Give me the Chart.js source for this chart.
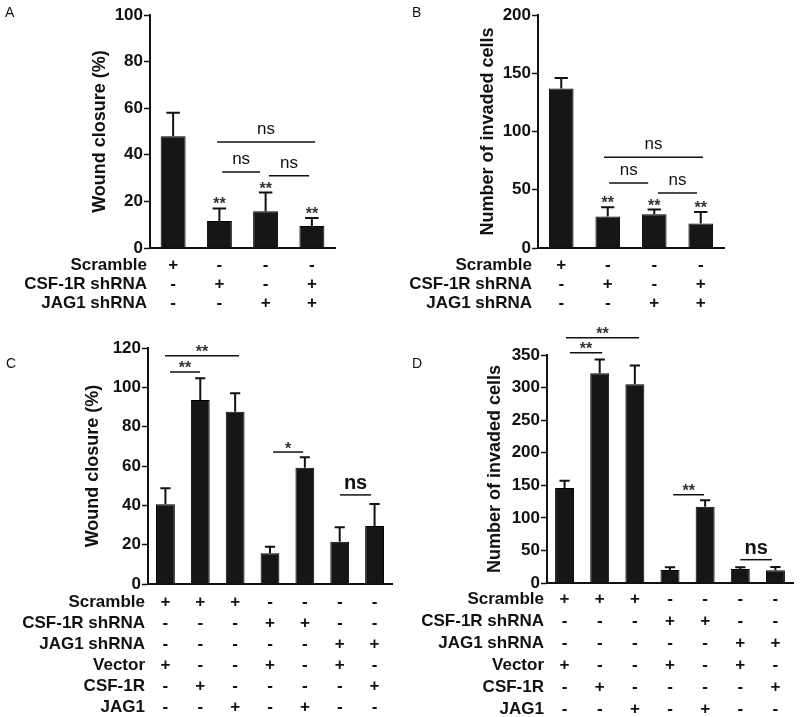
<!DOCTYPE html>
<html>
<head>
<meta charset="utf-8">
<script src="https://cdn.jsdelivr.net/npm/chart.js@4"></script>
<style>
  body { margin: 0; background: #fff; }
  #wrap { position: relative; width: 800px; height: 717px; }
  canvas { position: absolute; }
  .tag { position: absolute; font: 14px "Liberation Sans", Arial, sans-serif; color: #111; }
</style>
</head>
<body>
<div id="wrap">
  <canvas id="cA" width="400" height="320" style="left:0;top:0"></canvas>
  <canvas id="cB" width="400" height="320" style="left:400px;top:0"></canvas>
  <canvas id="cC" width="400" height="397" style="left:0;top:320px"></canvas>
  <canvas id="cD" width="400" height="397" style="left:400px;top:320px"></canvas>
  <div class="tag" style="left:5px;top:4px">A</div>
  <div class="tag" style="left:412px;top:4px">B</div>
  <div class="tag" style="left:6px;top:355px">C</div>
  <div class="tag" style="left:412px;top:355px">D</div>
</div>
<script>
// ---- data ----
const rowsTop = ["Scramble", "CSF-1R shRNA", "JAG1 shRNA"];
const signsTop = [
  ["+", "-", "-", "-"],
  ["-", "+", "-", "+"],
  ["-", "-", "+", "+"],
];
const rowsBottom = ["Scramble", "CSF-1R shRNA", "JAG1 shRNA", "Vector", "CSF-1R", "JAG1"];
const signsBottom = [
  ["+", "+", "+", "-", "-", "-", "-"],
  ["-", "-", "-", "+", "+", "-", "-"],
  ["-", "-", "-", "-", "-", "+", "+"],
  ["+", "-", "-", "+", "-", "+", "-"],
  ["-", "+", "-", "-", "-", "-", "+"],
  ["-", "-", "+", "-", "+", "-", "-"],
];

const woundA = [48, 11.6, 15.8, 9.4];
const woundAErr = [10, 5.4, 8, 3.5];
const invadedB = [137, 27, 29, 21];
const invadedBErr = [9, 8, 4, 10];
const woundC = [40.5, 93.6, 87.6, 15.6, 59.1, 21.5, 29.5];
const woundCErr = [8.2, 11, 9.4, 3.4, 5.3, 7.3, 11.2];
const invadedD = [146, 322, 305, 20, 117, 21.5, 19.5];
const invadedDErr = [11, 21, 29, 4, 10, 2.5, 5];

const starsA = ["", "**", "**", "**"];
const starsB = ["", "**", "**", "**"];

// brackets: from / to (category position), height (data value), label
const bracketsA = [
  { x1: 0.95, x2: 3.07, v: 45.5, t: "ns" },
  { x1: 1.06, x2: 1.88, v: 32.6, t: "ns" },
  { x1: 2.07, x2: 2.94, v: 31, t: "ns" },
];
const bracketsB = [
  { x1: 0.92, x2: 3.05, v: 78, t: "ns" },
  { x1: 1.03, x2: 1.87, v: 55.8, t: "ns" },
  { x1: 2.08, x2: 2.92, v: 47.2, t: "ns" },
];
const bracketsC = [
  { x1: -0.01, x2: 2.11, v: 116, t: "**" },
  { x1: 0.13, x2: 0.99, v: 107.8, t: "**" },
  { x1: 3.09, x2: 3.95, v: 67.1, t: "*" },
  { x1: 5.01, x2: 5.9, v: 45.3, t: "ns", big: true },
];
const bracketsD = [
  { x1: 0.04, x2: 2.12, v: 376.6, t: "**" },
  { x1: 0.15, x2: 1.07, v: 353.5, t: "**" },
  { x1: 3.09, x2: 3.97, v: 135.5, t: "**" },
  { x1: 5.0, x2: 5.9, v: 35.8, t: "ns", big: true },
];

const FONT = '"Liberation Sans", Arial, sans-serif';

// error bars, stars, brackets and the +/- table under the x axis
const extras = {
  id: "extras",
  afterDatasetsDraw(chart, args, o) {
    const { ctx, scales: { x, y }, chartArea } = chart;
    const vals = chart.data.datasets[0].data;
    const meta = chart.getDatasetMeta(0);
    ctx.save();
    ctx.strokeStyle = "#111";
    ctx.fillStyle = "#111";
    ctx.lineWidth = 2;
    meta.data.forEach((bar, i) => {
      const top = y.getPixelForValue(vals[i] + o.err[i]);
      const half = bar.width * 0.27;
      ctx.beginPath();
      ctx.moveTo(bar.x, bar.y);
      ctx.lineTo(bar.x, top);
      ctx.moveTo(bar.x - half, top);
      ctx.lineTo(bar.x + half, top);
      ctx.stroke();
      if (o.stars && o.stars[i]) {
        ctx.font = "bold 16px " + FONT;
        ctx.fillStyle = "#333";
        ctx.textAlign = "center";
        ctx.textBaseline = "alphabetic";
        ctx.fillText(o.stars[i], bar.x, top + 1);
        ctx.fillStyle = "#111";
      }
    });

    ctx.lineWidth = 1.5;
    o.brackets.forEach((b) => {
      const px1 = x.getPixelForValue(b.x1);
      const px2 = x.getPixelForValue(b.x2);
      const py = y.getPixelForValue(b.v);
      ctx.beginPath();
      ctx.moveTo(px1, py);
      ctx.lineTo(px2, py);
      ctx.stroke();
      ctx.textAlign = "center";
      ctx.textBaseline = "alphabetic";
      if (b.t === "ns") {
        ctx.font = (b.big ? "bold 20px " : "17px ") + FONT;
        ctx.fillText(b.t, (px1 + px2) / 2, py - (b.big ? 6 : 8));
      } else {
        ctx.font = "bold 16px " + FONT;
        ctx.fillStyle = "#333";
        ctx.fillText(b.t, (px1 + px2) / 2, py + 1.5);
        ctx.fillStyle = "#111";
      }
    });

    ctx.font = "bold 17px " + FONT;
    ctx.textBaseline = "middle";
    o.rows.forEach((label, r) => {
      const ry = chartArea.bottom + o.rowTop + r * o.rowGap;
      ctx.textAlign = "right";
      ctx.fillText(label, chartArea.left - o.labelGap, ry);
      ctx.textAlign = "center";
      o.signs[r].forEach((s, i) => {
        ctx.fillText(s, x.getPixelForValue(i), ry);
      });
    });
    ctx.restore();
  },
};

function makePanel(id, values, err, cfg) {
  new Chart(document.getElementById(id), {
    type: "bar",
    data: {
      labels: values.map((v, i) => String(i + 1)),
      datasets: [{
        data: values,
        backgroundColor: "#161616",
        borderColor: "#000",
        borderWidth: 1,
        barPercentage: cfg.barPct,
        categoryPercentage: 1,
      }],
    },
    options: {
      responsive: false,
      animation: false,
      layout: { padding: cfg.padding },
      plugins: {
        legend: { display: false },
        tooltip: { enabled: false },
        extras: {
          err: err,
          stars: cfg.stars,
          brackets: cfg.brackets,
          rows: cfg.rows,
          signs: cfg.signs,
          rowTop: cfg.rowTop,
          rowGap: cfg.rowGap,
          labelGap: cfg.labelGap,
        },
      },
      scales: {
        x: {
          grid: { display: false },
          border: { display: true, color: "#111", width: 2 },
          ticks: { display: false },
          afterFit: (s) => { s.height = 0; },
        },
        y: {
          min: 0,
          max: cfg.max,
          ticks: {
            stepSize: cfg.step,
            color: "#111",
            padding: 1,
            font: { family: FONT, size: 17, weight: "bold" },
          },
          grid: {
            display: true,
            drawOnChartArea: false,
            drawTicks: true,
            tickLength: 6,
            tickWidth: 1.5,
            tickColor: "#111",
          },
          border: { display: true, color: "#111", width: 2 },
          title: {
            display: true,
            text: cfg.title,
            color: "#111",
            padding: { top: cfg.titlePad, bottom: 0 },
            font: { family: FONT, size: 18, weight: "bold" },
          },
          afterFit: (s) => { s.width = cfg.axisW; },
        },
      },
    },
    plugins: [extras],
  });
}

makePanel("cA", woundA, woundAErr, {
  max: 100, step: 20, title: "Wound closure (%)", titlePad: 89, axisW: 150,
  padding: { top: 15, right: 65, bottom: 72, left: 0 }, barPct: 0.54,
  stars: starsA, brackets: bracketsA, rows: rowsTop, signs: signsTop,
  rowTop: 17, rowGap: 19, labelGap: 3,
});
makePanel("cB", invadedB, invadedBErr, {
  max: 200, step: 50, title: "Number of invaded cells", titlePad: 77, axisW: 138,
  padding: { top: 15, right: 76, bottom: 72, left: 0 }, barPct: 0.53,
  stars: starsB, brackets: bracketsB, rows: rowsTop, signs: signsTop,
  rowTop: 17, rowGap: 19, labelGap: 6,
});
makePanel("cC", woundC, woundCErr, {
  max: 120, step: 20, title: "Wound closure (%)", titlePad: 82, axisW: 148,
  padding: { top: 28, right: 8, bottom: 133, left: 0 }, barPct: 0.54,
  stars: null, brackets: bracketsC, rows: rowsBottom, signs: signsBottom,
  rowTop: 18, rowGap: 21, labelGap: 3,
});
makePanel("cD", invadedD, invadedDErr, {
  max: 350, step: 50, title: "Number of invaded cells", titlePad: 84, axisW: 147,
  padding: { top: 35, right: 7, bottom: 134, left: 0 }, barPct: 0.54,
  stars: null, brackets: bracketsD, rows: rowsBottom, signs: signsBottom,
  rowTop: 16, rowGap: 22, labelGap: 3,
});
</script>
</body>
</html>
